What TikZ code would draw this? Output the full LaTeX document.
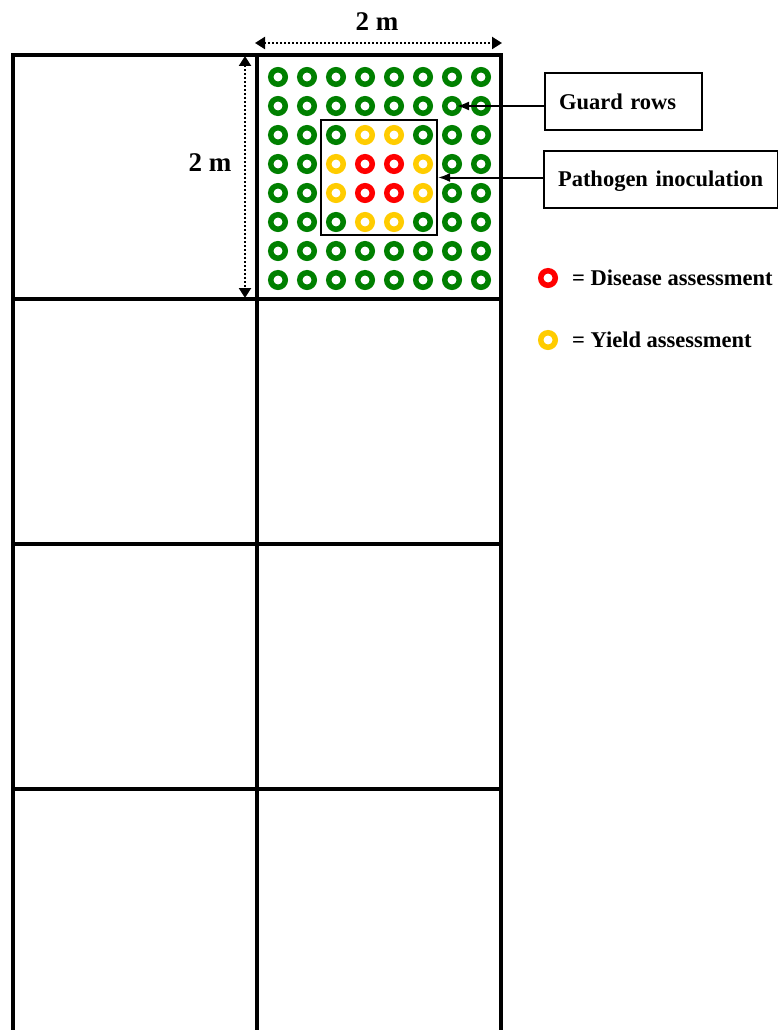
\documentclass[tikz,border=0pt]{standalone}
\usepackage{fontspec}
\setmainfont{Liberation Serif}
\usetikzlibrary{arrows.meta,positioning}
\definecolor{guardgreen}{RGB}{0,128,0}
\definecolor{diseasered}{RGB}{255,0,0}
\definecolor{yieldgold}{RGB}{255,204,0}

\begin{document}
\begin{tikzpicture}[x=1pt,y=-1pt]
\tikzset{
  ring/.style={circle,line width=5.5pt,minimum size=14.5pt,inner sep=0pt},
  guardring/.style={ring,draw=guardgreen},
  diseasering/.style={ring,draw=diseasered},
  yieldring/.style={ring,draw=yieldgold},
  plotline/.style={draw=black,line width=4.5pt,line join=miter},
  inoculbox/.style={rectangle,draw=black,line width=2pt,minimum width=116pt,minimum height=115pt,inner sep=0pt},
  labelbox/.style={rectangle,draw=black,line width=2pt,minimum height=57pt,inner xsep=14pt,align=left,text depth=0pt,font=\bfseries\fontsize{22.5}{27}\selectfont},
  legendtext/.style={inner sep=0pt,font=\bfseries\fontsize{22.5}{27}\selectfont},
  dimtext/.style={inner sep=0pt,font=\bfseries\fontsize{27}{32}\selectfont},
  dimension/.style={draw=black,line width=2.2pt,dash pattern=on 2pt off 2pt,{Triangle[length=10pt,width=12pt]}-{Triangle[length=10pt,width=12pt]}},
  pointer/.style={draw=black,line width=2pt,-{Latex[length=12pt,width=9pt]}}
}
\useasboundingbox (0,0) rectangle (778,1030);
% plots
\draw[plotline] (13,1036) -- (13,55) -- (501,55) -- (501,1036);
\draw[plotline] (257,55) -- (257,1036);
\draw[plotline] (13,299) -- (501,299);
\draw[plotline] (13,544) -- (501,544);
\draw[plotline] (13,789) -- (501,789);
% inoculated block
\node[inoculbox] (n_inoc) at (379,177.5) {};
% plants
\node[guardring] (n_r11) at (278,77) {};
\node[guardring] (n_r12) at (307,77) {};
\node[guardring] (n_r13) at (336,77) {};
\node[guardring] (n_r14) at (365,77) {};
\node[guardring] (n_r15) at (394,77) {};
\node[guardring] (n_r16) at (423,77) {};
\node[guardring] (n_r17) at (452,77) {};
\node[guardring] (n_r18) at (481,77) {};
\node[guardring] (n_r21) at (278,106) {};
\node[guardring] (n_r22) at (307,106) {};
\node[guardring] (n_r23) at (336,106) {};
\node[guardring] (n_r24) at (365,106) {};
\node[guardring] (n_r25) at (394,106) {};
\node[guardring] (n_r26) at (423,106) {};
\node[guardring] (n_r27) at (452,106) {};
\node[guardring] (n_r28) at (481,106) {};
\node[guardring] (n_r31) at (278,135) {};
\node[guardring] (n_r32) at (307,135) {};
\node[guardring] (n_r33) at (336,135) {};
\node[yieldring] (n_r34) at (365,135) {};
\node[yieldring] (n_r35) at (394,135) {};
\node[guardring] (n_r36) at (423,135) {};
\node[guardring] (n_r37) at (452,135) {};
\node[guardring] (n_r38) at (481,135) {};
\node[guardring] (n_r41) at (278,164) {};
\node[guardring] (n_r42) at (307,164) {};
\node[yieldring] (n_r43) at (336,164) {};
\node[diseasering] (n_r44) at (365,164) {};
\node[diseasering] (n_r45) at (394,164) {};
\node[yieldring] (n_r46) at (423,164) {};
\node[guardring] (n_r47) at (452,164) {};
\node[guardring] (n_r48) at (481,164) {};
\node[guardring] (n_r51) at (278,193) {};
\node[guardring] (n_r52) at (307,193) {};
\node[yieldring] (n_r53) at (336,193) {};
\node[diseasering] (n_r54) at (365,193) {};
\node[diseasering] (n_r55) at (394,193) {};
\node[yieldring] (n_r56) at (423,193) {};
\node[guardring] (n_r57) at (452,193) {};
\node[guardring] (n_r58) at (481,193) {};
\node[guardring] (n_r61) at (278,222) {};
\node[guardring] (n_r62) at (307,222) {};
\node[guardring] (n_r63) at (336,222) {};
\node[yieldring] (n_r64) at (365,222) {};
\node[yieldring] (n_r65) at (394,222) {};
\node[guardring] (n_r66) at (423,222) {};
\node[guardring] (n_r67) at (452,222) {};
\node[guardring] (n_r68) at (481,222) {};
\node[guardring] (n_r71) at (278,251) {};
\node[guardring] (n_r72) at (307,251) {};
\node[guardring] (n_r73) at (336,251) {};
\node[guardring] (n_r74) at (365,251) {};
\node[guardring] (n_r75) at (394,251) {};
\node[guardring] (n_r76) at (423,251) {};
\node[guardring] (n_r77) at (452,251) {};
\node[guardring] (n_r78) at (481,251) {};
\node[guardring] (n_r81) at (278,280) {};
\node[guardring] (n_r82) at (307,280) {};
\node[guardring] (n_r83) at (336,280) {};
\node[guardring] (n_r84) at (365,280) {};
\node[guardring] (n_r85) at (394,280) {};
\node[guardring] (n_r86) at (423,280) {};
\node[guardring] (n_r87) at (452,280) {};
\node[guardring] (n_r88) at (481,280) {};
% dimensions
\coordinate (c_wleft) at (255,43);
\coordinate (c_wright) at (502,43);
\coordinate (c_htop) at (245,56);
\coordinate (c_hbottom) at (245,298);
\draw[dimension] (c_wleft) -- (c_wright);
\draw[dimension] (c_htop) -- (c_hbottom);
\node[dimtext] (n_width) at (377,22) {2 m};
\node[dimtext] (n_height) at (210,163) {2 m};
% labels
\node[labelbox,anchor=west,text width=129pt] (n_guard) at (544,101.5) {Guard rows};
\node[labelbox,anchor=west,text width=206pt] (n_patho) at (543,179) {Pathogen inoculation};
\draw[pointer,shorten >=5pt] (n_r27 -| n_guard.west) -- (n_r27.center);
\draw[pointer] (n_inoc.east -| n_patho.west) -- (n_inoc.east);
% legend
\node[diseasering] (n_legdisease) at (548,278) {};
\node[yieldring] (n_legyield) at (548,340) {};
\node[legendtext,right=14pt of n_legdisease] (n_legdiseasetext) {= Disease assessment};
\node[legendtext,right=14pt of n_legyield] (n_legyieldtext) {= Yield assessment};
\end{tikzpicture}
\end{document}
